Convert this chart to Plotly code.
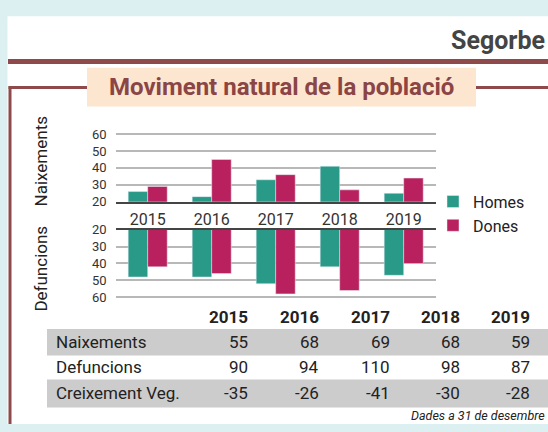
import plotly.graph_objects as go

# ---- data ----
years = ["2015", "2016", "2017", "2018", "2019"]
naix_homes = [26, 23, 33, 41, 25]
naix_dones = [29, 45, 36, 27, 34]
def_homes = [48, 48, 52, 42, 47]
def_dones = [42, 46, 58, 56, 40]
row_labels = ["Naixements", "Defuncions", "Creixement Veg."]
naixements = [55, 68, 69, 68, 59]
defuncions = [90, 94, 110, 98, 87]
creixement = [-35, -26, -41, -30, -28]

W, H = 548, 432
def X(px):
    return px / W
def Y(py):
    return 1 - py / H

TEAL = "#2a9a88"
MAG = "#b8215d"
BROWN = "#8e4a4a"
FONT = "Roboto"

fig = go.Figure()
fig.add_trace(go.Bar(x=years, y=naix_homes, name="Homes", marker_color=TEAL,
                     xaxis="x", yaxis="y", legendgroup="h"))
fig.add_trace(go.Bar(x=years, y=naix_dones, name="Dones", marker_color=MAG,
                     xaxis="x", yaxis="y", legendgroup="d"))
fig.add_trace(go.Bar(x=years, y=def_homes, name="Homes", marker_color=TEAL,
                     xaxis="x2", yaxis="y2", showlegend=False, legendgroup="h"))
fig.add_trace(go.Bar(x=years, y=def_dones, name="Dones", marker_color=MAG,
                     xaxis="x2", yaxis="y2", showlegend=False, legendgroup="d"))

xdom = [X(115.7), X(435.7)]
grid = dict(showgrid=True, gridcolor="#b8b8b8", gridwidth=2, zeroline=False,
            tickvals=[20, 30, 40, 50, 60], ticks="",
            tickfont=dict(family=FONT, size=13, color="#333"),
            ticklabelstandoff=8, fixedrange=True)

fig.update_layout(
    width=W, height=H, margin=dict(l=0, r=0, t=0, b=0),
    paper_bgcolor="#dcf0f2", plot_bgcolor="rgba(0,0,0,0)",
    barmode="group", bargap=0.39, bargroupgap=0,
    font=dict(family=FONT, color="#222"),
    xaxis=dict(domain=xdom, anchor="y", showline=True, linecolor="#444", linewidth=1.5,
               showgrid=False, ticks="", tickfont=dict(family=FONT, size=16, color="#333"),
               ticklabelstandoff=2, fixedrange=True),
    yaxis=dict(domain=[Y(201.7), Y(128.2)], anchor="x", range=[20, 62], **grid),
    xaxis2=dict(domain=xdom, anchor="y2", side="top", showline=True, linecolor="#444",
                linewidth=1.5, showgrid=False, showticklabels=False, ticks="", fixedrange=True),
    yaxis2=dict(domain=[Y(304.2), Y(230.7)], anchor="x2", range=[62, 20], **grid),
    legend=dict(x=X(433), y=Y(184), xanchor="left", yanchor="top",
                bgcolor="rgba(0,0,0,0)", font=dict(family=FONT, size=16, color="#222"),
                itemwidth=30, tracegroupgap=0),
    showlegend=True,
)

shapes = [
    dict(type="rect", xref="paper", yref="paper", x0=X(7.5), x1=X(W), y0=Y(H), y1=Y(9.5),
         fillcolor="white", line_width=0, layer="below"),
    dict(type="line", xref="paper", yref="paper", x0=X(8), x1=X(W), y0=Y(56.5), y1=Y(56.5),
         line=dict(color=BROWN, width=5)),
    dict(type="line", xref="paper", yref="paper", x0=X(8.5), x1=X(87), y0=Y(83.5), y1=Y(83.5),
         line=dict(color=BROWN, width=3)),
    dict(type="line", xref="paper", yref="paper", x0=X(476), x1=X(W), y0=Y(83.5), y1=Y(83.5),
         line=dict(color=BROWN, width=3)),
    dict(type="line", xref="paper", yref="paper", x0=X(10), x1=X(10), y0=Y(82), y1=Y(H),
         line=dict(color=BROWN, width=3)),
    dict(type="rect", xref="paper", yref="paper", x0=X(87), x1=X(476), y0=Y(103), y1=Y(63),
         fillcolor="#fde6d0", line_width=0),
    dict(type="rect", xref="paper", yref="paper", x0=X(47), x1=X(W), y0=Y(361), y1=Y(333.5),
         fillcolor="#cccccc", line_width=0, layer="below"),
    dict(type="rect", xref="paper", yref="paper", x0=X(47), x1=X(W), y0=Y(415), y1=Y(386),
         fillcolor="#cccccc", line_width=0, layer="below"),
]
fig.update_layout(shapes=shapes)

ann = []
def A(text, x, y, size, xanchor="center", color="#222", bold=False, angle=0, **kw):
    if bold:
        text = "<b>" + text + "</b>"
    ann.append(dict(text=text, xref="paper", yref="paper", x=X(x), y=Y(y),
                    xanchor=xanchor, yanchor="middle", showarrow=False, textangle=angle,
                    font=dict(family=FONT, size=size, color=color), **kw))

A("Segorbe", 547, 35, 25, xanchor="right", color="#444", bold=True)
A("Moviment natural de la població", 281.5, 82.5, 24, color="#8b4545", bold=True)
A("Naixements", 41, 160, 17, angle=-90)
A("Defuncions", 41, 271, 17, angle=-90)

col_x = [250, 321, 391.5, 462, 532]
for cx, yr in zip(col_x, years):
    A(yr, cx, 321.5, 17, xanchor="right", bold=True)
rows = [naixements, defuncions, creixement]
row_y = [347, 373, 399.5]
for lab, vals, ry in zip(row_labels, rows, row_y):
    A(lab, 54, ry, 17, xanchor="left")
    for cx, v in zip(col_x, vals):
        A(str(v), cx, ry, 17, xanchor="right")
A("<i>Dades a 31 de desembre</i>", 546.5, 423.5, 12.5, xanchor="right")
fig.update_layout(annotations=ann)

js = """
var de=document.documentElement, b=document.body;
de.style.margin='0'; de.style.padding='0'; de.style.overflow='hidden';
b.style.margin='0'; b.style.padding='0'; b.style.overflow='hidden';
b.style.background='#dcf0f2';
"""
fig.write_html("out.html", config={"displayModeBar": False}, post_script=js)
